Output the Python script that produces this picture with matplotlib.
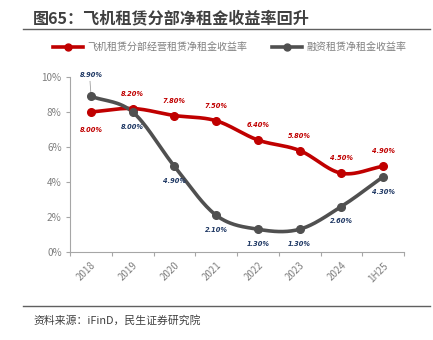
import numpy as np
import matplotlib
matplotlib.use("Agg")
import matplotlib.pyplot as plt
from matplotlib.lines import Line2D

plt.rcParams['font.family'] = ['Noto Sans CJK SC', 'DejaVu Sans']

categories = ["2018", "2019", "2020", "2021", "2022", "2023", "2024", "1H25"]
aircraft_yield = [8.0, 8.2, 7.8, 7.5, 6.4, 5.8, 4.5, 4.9]
finance_yield = [8.9, 8.0, 4.9, 2.1, 1.3, 1.3, 2.6, 4.3]
yticks = [0, 2, 4, 6, 8, 10]

title = "图65：飞机租赁分部净租金收益率回升"
legend_labels = ["飞机租赁分部经营租赁净租金收益率", "融资租赁净租金收益率"]
source = "资料来源：iFinD，民生证券研究院"

RED = "#C00000"
GREY = "#505050"
NAVY = "#1F3864"


def smooth(x, y, n=30, tension=0.5):
    x = np.asarray(x, float)
    y = np.asarray(y, float)
    px = np.concatenate([[2 * x[0] - x[1]], x, [2 * x[-1] - x[-2]]])
    py = np.concatenate([[2 * y[0] - y[1]], y, [2 * y[-1] - y[-2]]])
    xs, ys = [], []
    for i in range(1, len(px) - 2):
        p0, p1, p2, p3 = px[i - 1], px[i], px[i + 1], px[i + 2]
        q0, q1, q2, q3 = py[i - 1], py[i], py[i + 1], py[i + 2]
        t = np.linspace(0, 1, n, endpoint=(i == len(px) - 3))
        m1x, m2x = tension * (p2 - p0), tension * (p3 - p1)
        m1y, m2y = tension * (q2 - q0), tension * (q3 - q1)
        h00 = 2 * t**3 - 3 * t**2 + 1
        h10 = t**3 - 2 * t**2 + t
        h01 = -2 * t**3 + 3 * t**2
        h11 = t**3 - t**2
        xs.append(h00 * p1 + h10 * m1x + h01 * p2 + h11 * m2x)
        ys.append(h00 * q1 + h10 * m1y + h01 * q2 + h11 * m2y)
    return np.concatenate(xs), np.concatenate(ys)


fig = plt.figure(figsize=(4.33, 3.40), dpi=100)
ax = fig.add_axes([70 / 433, 1 - 252 / 340, (404 - 70) / 433, (252 - 77) / 340])

x = np.arange(len(categories))

sx, sy = smooth(x, aircraft_yield)
ax.plot(sx, sy, color=RED, lw=2.6, solid_capstyle='round', zorder=3)
ax.plot(x, aircraft_yield, 'o', color=RED, ms=5.5, zorder=4)

gx, gy = smooth(x, finance_yield)
ax.plot(gx, gy, color=GREY, lw=2.6, solid_capstyle='round', zorder=3)
ax.plot(x, finance_yield, 'o', color=GREY, ms=5.5, zorder=4)

lab_kw = dict(fontsize=4.8, fontstyle='italic', fontweight='bold', ha='center',
              family=['DejaVu Sans'])
for i, v in enumerate(aircraft_yield):
    off = -1.0 if i == 0 else 0.85
    ax.text(i, v + off, f"{v:.2f}%", color=RED, va='center', **lab_kw)
for i, v in enumerate(finance_yield):
    off = 1.2 if i == 0 else -0.85
    ax.text(i, v + off, f"{v:.2f}%", color=NAVY, va='center', **lab_kw)
ax.plot([-0.02, 0.0], [9.75, 9.05], color="#A0A0A0", lw=0.6, zorder=2)

ax.set_xlim(-0.5, len(categories) - 0.5)
ax.set_ylim(0, 10)
ax.set_yticks(yticks)
ax.set_yticklabels([f"{t}%" for t in yticks], fontsize=7.2, color="#7F7F7F")
ax.set_xticks(x)
ax.set_xticklabels(categories, rotation=45, fontsize=7, color="#7F7F7F",
                   ha='right', rotation_mode='anchor')
ax.set_xticks(np.arange(-0.5, len(categories)), minor=True)
ax.tick_params(axis='x', which='major', length=0, pad=6)
ax.tick_params(axis='x', which='minor', length=3, color="#A6A6A6", width=0.8)
ax.tick_params(axis='y', length=3, color="#A6A6A6", width=0.8, pad=3)
for s in ['top', 'right']:
    ax.spines[s].set_visible(False)
for s in ['left', 'bottom']:
    ax.spines[s].set_color("#A6A6A6")
    ax.spines[s].set_linewidth(0.8)

handles = [Line2D([0], [0], color=RED, lw=2.6, marker='o', ms=5),
           Line2D([0], [0], color=GREY, lw=2.6, marker='o', ms=5)]
fig.legend(handles, legend_labels, loc='center', bbox_to_anchor=(0.53, 1 - 47 / 340),
           ncol=2, frameon=False, fontsize=7.2, labelcolor="#7F7F7F",
           handlelength=3.0, columnspacing=2.5, handletextpad=0.4)

fig.text(33 / 433, 1 - 18 / 340, title, fontsize=11.6, fontweight='bold',
         color="#404040", va='center', ha='left')
fig.add_artist(Line2D([23 / 433, 430 / 433], [1 - 29 / 340] * 2, color="#606060", lw=1.0))
fig.add_artist(Line2D([23 / 433, 430 / 433], [1 - 306 / 340] * 2, color="#606060", lw=1.0))
fig.text(33 / 433, 1 - 320 / 340, source, fontsize=7.8, color="#404040",
         va='center', ha='left')

fig.savefig("out.png", dpi=100)
